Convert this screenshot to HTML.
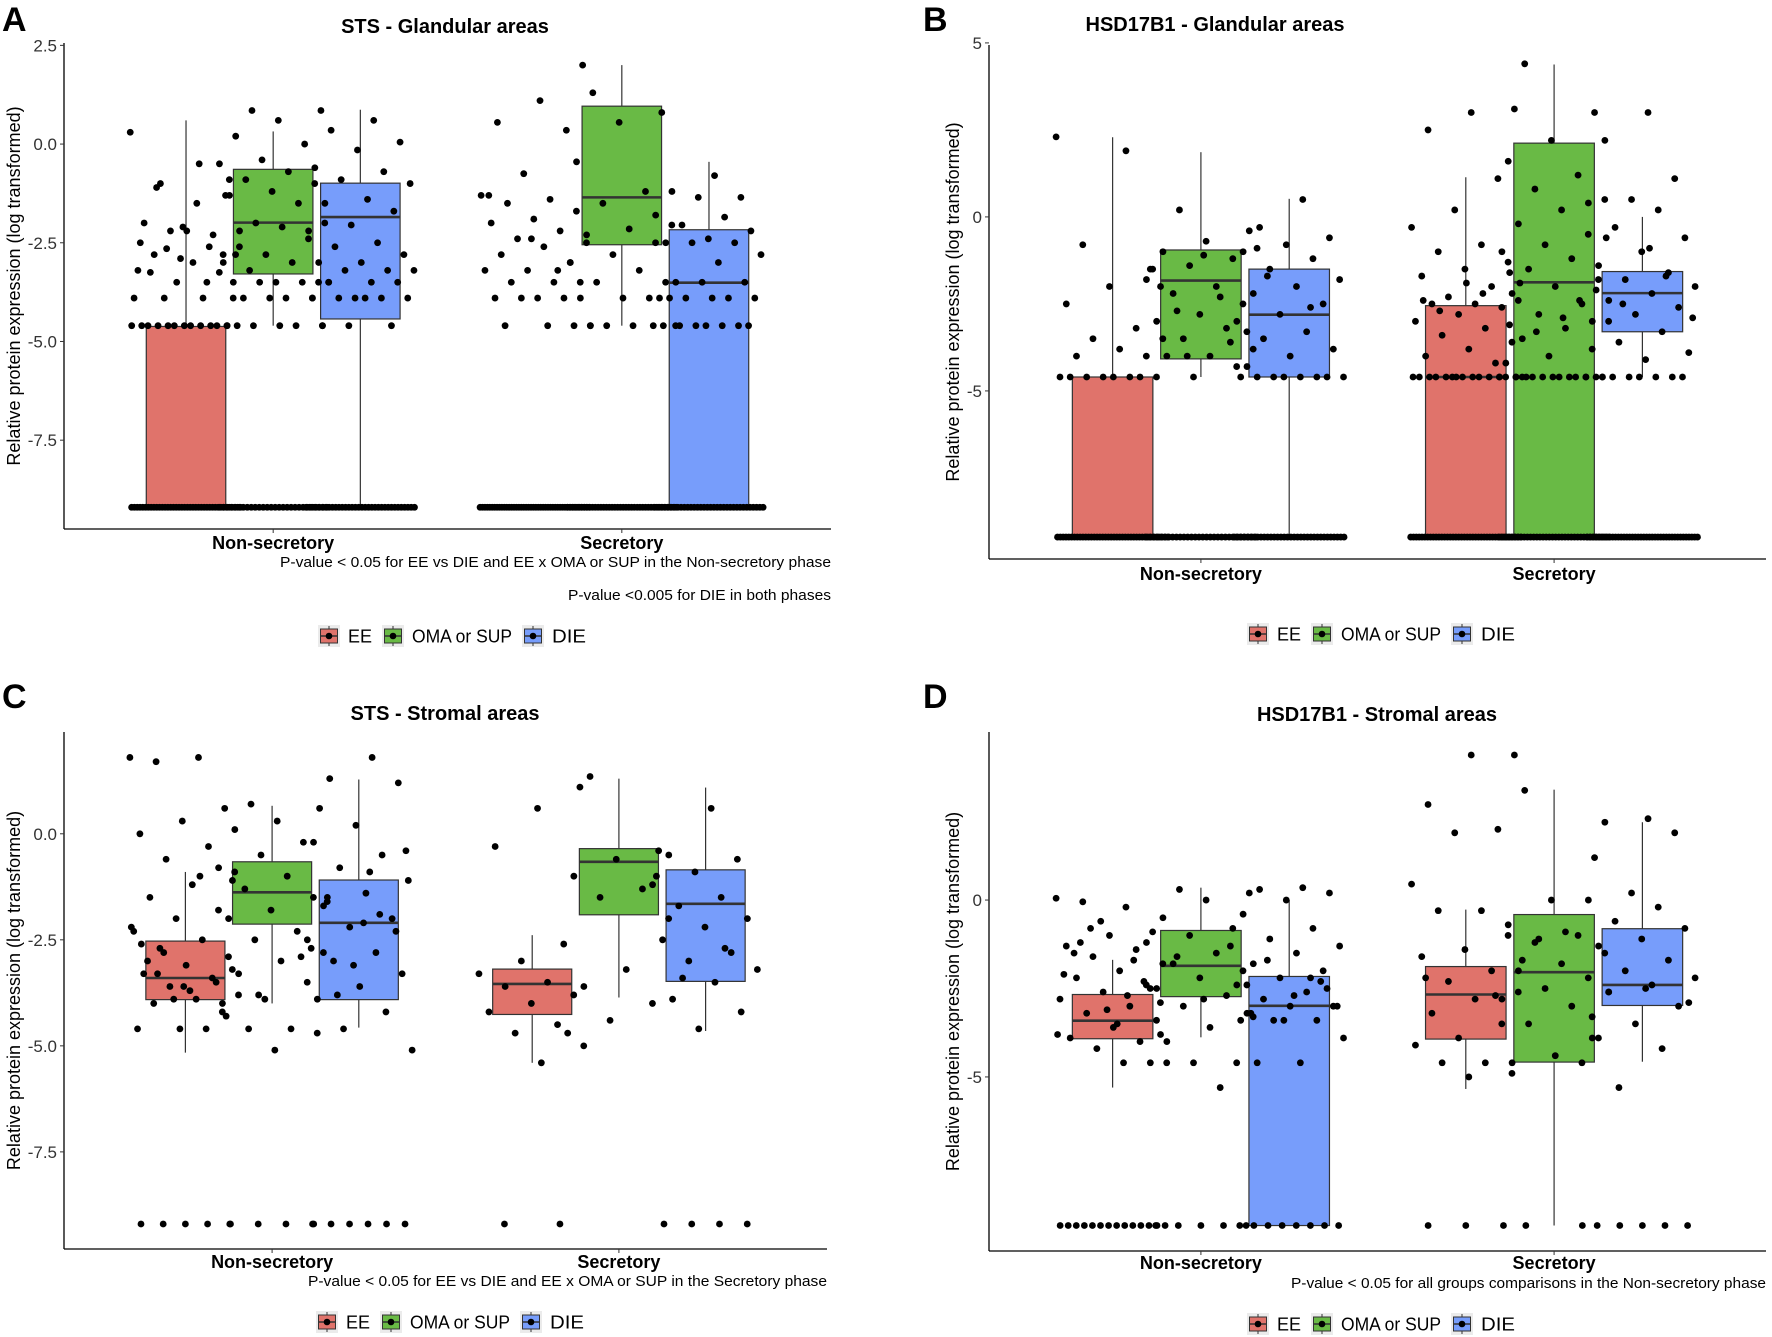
<!DOCTYPE html>
<html><head><meta charset="utf-8"><style>
html,body{margin:0;padding:0;background:#fff;}
svg{display:block;font-family:"Liberation Sans",Arial,sans-serif;}
</style></head><body>
<svg id="fig" width="1772" height="1337" viewBox="0 0 1772 1337" xmlns="http://www.w3.org/2000/svg"></svg>
<script>
// ---------- DATA ----------
const groups = ["EE", "OMA or SUP", "DIE"];
const phases = ["Non-secretory", "Secretory"];
const FLOOR = -9.2;

const A_stats = [[-9.2,-9.2,-9.2,-4.62,0.6],[-4.6,-3.29,-1.99,-0.64,0.32],[-9.2,-4.43,-1.85,-0.99,0.87],
                 [-9.2,-9.2,-9.2,-9.2,-9.2],[-4.6,-2.55,-1.35,0.96,2.0],[-9.2,-9.2,-3.51,-2.17,-0.45]];
const A_points = [
 [0.3,-0.5,-1.1,-1.3,-2.1,-2.5,-2.6,-2.65,-2.8,-3.0,-3.25,-3.25,-3.5,-3.9,-3.9,-1.0,-0.9,-2.2,-2.0,-2.3,-2.2,-2.6,-1.5,-2.8,-2.8,-2.9,-3.2,-3.5,-3.9,-3.9,-4.6,-4.6,-4.6,-4.6,-4.6,-4.6,-4.6,-4.6,-4.6,-4.6,-4.6,-4.6],
 [0.85,0.85,0.6,0.2,0.0,-0.4,-0.5,-0.7,-0.9,-1.0,-1.2,-1.3,-1.5,-2.0,-2.0,-2.1,-2.2,-2.4,-2.8,-3.0,-3.0,-3.2,-3.5,-3.5,-3.5,-3.5,-3.5,-3.5,-3.9,-3.9,-3.9,-3.9,-4.6,-4.6,-4.6,-4.6,-4.6,-4.6],
 [0.6,0.35,0.05,-0.15,-0.6,-0.7,-0.9,-1.0,-1.4,-1.5,-1.7,-2.05,-2.2,-2.5,-2.6,-2.8,-3.0,-3.0,-3.2,-3.2,-3.2,-3.5,-3.5,-3.5,-3.9,-3.9,-3.9,-3.9,-3.9,-3.9,-4.6,-4.6,-4.6],
 [2.0,1.1,0.55,0.35,-0.75,-1.3,-1.4,-1.5,-1.7,-1.9,-2.0,-2.2,-2.4,-2.5,-2.6,-2.8,-3.0,-3.2,-3.2,-3.5,-3.5,-3.5,-3.9,-3.9,-3.9,-3.9,-4.6,-4.6,-4.6,-4.6,-2.4,-1.3,-3.2],
 [1.3,0.8,0.55,-0.45,-1.2,-1.5,-2.05,-2.15,-2.3,-2.5,-2.8,-3.0,-3.2,-3.5,-3.5,-3.9,-3.9,-3.9,-4.6,-4.6,-4.6,-4.6],
 [-0.8,-1.2,-1.35,-1.35,-1.8,-1.85,-2.05,-2.2,-2.4,-2.5,-2.5,-2.5,-2.8,-3.0,-3.5,-3.5,-3.5,-3.9,-3.9,-3.9,-3.9,-3.9,-3.9,-4.6,-4.6,-4.6,-4.6,-4.6,-4.6,-4.6,-4.6]];
const A_floor = [40,28,34,46,40,34];

const B_stats = [[-9.2,-9.2,-9.2,-4.6,2.29],[-4.6,-4.08,-1.83,-0.95,1.86],[-9.2,-4.6,-2.81,-1.5,0.52],
                 [-9.2,-9.2,-4.6,-2.55,1.14],[-9.2,-9.2,-1.88,2.12,4.38],[-4.6,-3.3,-2.19,-1.57,0.0]];
const B_points = [
 [2.3,1.9,-0.8,-1.5,-2.0,-2.5,-3.2,-3.5,-3.5,-3.8,-4.0,-4.0,-4.6,-4.6,-4.6,-4.6,-4.6,-4.6,-4.6,-4.6],
 [0.2,-0.4,-0.7,-1.0,-1.2,-1.4,-1.8,-2.0,-2.2,-2.5,-2.8,-3.0,-3.2,-3.5,-3.8,-4.0,-4.0,-4.3,-4.6,-1.5,-2.3,-2.7,-3.3,-1.1,-2.0,-3.6,-4.0,-0.9],
 [0.5,-0.3,-0.6,-0.8,-1.0,-1.2,-1.5,-1.8,-2.0,-2.2,-2.5,-2.8,-3.0,-3.3,-3.5,-3.8,-4.0,-4.3,-4.6,-4.6,-4.6,-4.6,-4.6,-4.6,-4.6,-4.6,-2.6,-1.7],
 [3.1,3.0,2.5,1.1,0.2,-0.3,-0.8,-1.0,-1.3,-1.5,-1.7,-2.0,-2.3,-2.4,-2.5,-2.5,-2.6,-2.8,-3.0,-3.2,-3.4,-3.6,-3.8,-4.0,-4.2,-4.6,-4.6,-4.6,-4.6,-4.6,-4.6,-4.6,-4.6,-4.6,-4.6,-4.6,-4.6,-4.6,-4.6,-4.6,-2.2,-2.7,-3.1,-1.9,-2.4],
 [4.4,3.0,2.2,1.6,1.2,0.8,0.5,0.2,-0.2,-0.5,-0.8,-1.0,-1.2,-1.5,-1.8,-2.0,-2.2,-2.5,-2.8,-3.0,-3.2,-3.5,-3.8,-4.0,-4.2,-4.6,-4.6,-4.6,-4.6,-4.6,-4.6,-4.6,-4.6,-4.6,-4.6,-4.6,-4.6,-1.6,-2.4,-3.3,-0.6,-2.9,-1.9],
 [3.0,2.2,1.1,0.5,0.4,0.2,-0.3,-0.6,-1.0,-1.4,-1.6,-1.8,-2.0,-2.2,-2.4,-2.6,-2.8,-3.0,-3.3,-3.6,-3.9,-4.1,-4.6,-4.6,-4.6,-4.6,-4.6,-4.6,-4.6,-4.6,-2.1,-1.7,-2.5,-2.9,-0.9]];
const B_floor = [40,30,34,40,36,40];

const C_stats = [[-5.16,-3.91,-3.4,-2.53,-0.9],[-4.0,-2.13,-1.38,-0.66,0.66],[-4.57,-3.91,-2.1,-1.09,1.28],
                 [-5.4,-4.26,-3.54,-3.19,-2.39],[-3.86,-1.91,-0.66,-0.35,1.3],[-4.65,-3.48,-1.65,-0.85,1.09]];
const C_points = [
 [1.8,1.8,1.7,0.6,0.3,0.0,-0.3,-0.6,-0.9,-1.2,-1.5,-1.8,-2.0,-2.3,-2.5,-2.7,-2.9,-3.1,-3.3,-3.4,-3.6,-3.8,-3.9,-4.0,-4.2,-4.6,-4.6,-4.6,-2.8,-3.2,-3.7,-3.0,-3.5,-3.9,-2.2,-1.0,-3.3,-4.3,-3.6,-2.6],
 [0.7,0.6,0.3,0.1,-0.2,-0.5,-0.8,-1.0,-1.3,-1.5,-1.8,-2.0,-2.3,-2.5,-2.8,-3.0,-3.3,-3.5,-3.9,-4.0,-4.6,-4.6,-4.7,-5.1,-1.1,-2.9,-3.8,-1.6],
 [1.8,1.3,1.2,0.2,-0.2,-0.5,-0.8,-1.1,-1.4,-1.7,-2.0,-2.2,-2.5,-2.8,-3.0,-3.3,-3.6,-3.9,-4.2,-4.6,-5.1,-0.9,-1.5,-2.3,-3.1,-2.7,-1.9,-3.8,-0.4,-2.1],
 [1.1,0.6,-0.3,-2.6,-3.0,-3.3,-3.5,-3.6,-3.8,-4.0,-4.2,-4.5,-4.7,-5.0,-5.4],
 [1.35,-0.4,-0.6,-1.0,-1.3,-1.5,-2.0,-3.2,-3.6,-4.0,-4.4,-4.7],
 [0.6,-0.5,-0.6,-0.9,-1.2,-1.5,-1.7,-2.0,-2.2,-2.5,-2.8,-3.0,-3.2,-3.5,-3.9,-4.2,-4.6,-1.0,-2.7,-3.4]];
const C_floor = [5,4,6,2,0,4];

const D_stats = [[-5.3,-3.92,-3.41,-2.67,-1.69],[-3.88,-2.73,-1.86,-0.86,0.35],[-9.2,-9.2,-2.99,-2.16,0.0],
                 [-5.34,-3.93,-2.67,-1.88,-0.27],[-9.2,-4.58,-2.04,-0.41,3.12],[-4.57,-2.98,-2.4,-0.81,2.2]];
const D_points = [
 [0.05,-0.2,-0.05,-0.9,-1.0,-1.3,-1.4,-1.6,-1.8,-2.0,-2.2,-2.4,-2.6,-2.8,-3.0,-3.2,-3.4,-3.6,-3.9,-4.0,-4.2,-4.6,-4.6,-1.2,-2.5,-3.1,-2.1,-1.7,-0.8,-2.9,-3.5,-1.5,-2.3,-0.6,-3.8,-2.7],
 [0.3,0.2,0.0,-0.5,-0.8,-1.0,-1.2,-1.5,-1.8,-2.0,-2.2,-2.5,-2.7,-3.0,-3.3,-3.6,-4.0,-4.6,-4.6,-4.6,-5.3,-1.6,-2.4,-2.8,-3.8,-1.3],
 [0.35,0.3,0.2,0.0,-0.4,-0.8,-1.1,-1.3,-1.5,-1.8,-2.0,-2.2,-2.4,-2.6,-2.8,-3.0,-3.0,-3.2,-3.4,-3.4,-3.9,-4.6,-4.6,-2.5,-3.4,-3.4,-2.2,-1.7,-3.0,-2.7,-3.2,-2.3],
 [4.1,4.1,2.7,2.0,1.9,0.45,-0.3,-0.3,-1.0,-1.4,-1.6,-2.0,-2.3,-2.6,-2.8,-3.2,-3.5,-3.9,-4.1,-4.6,-4.6,-4.9,-5.0,-2.2,-2.7],
 [3.1,1.2,0.0,-0.7,-1.0,-1.2,-1.5,-1.8,-2.0,-2.2,-2.5,-2.8,-3.0,-3.5,-3.9,-4.4,-4.6,-4.6,-1.1,-2.6,-0.9,-1.7,-3.3],
 [2.3,2.2,1.9,0.2,0.0,-0.2,-0.6,-0.8,-1.1,-1.3,-1.7,-2.0,-2.2,-2.4,-2.6,-3.0,-3.5,-3.9,-4.2,-5.3,-2.9,-2.5]];
const D_floor = [14,5,8,3,2,5];

// ---------- DRAWING ----------
const NS = "http://www.w3.org/2000/svg";
const svg = document.getElementById("fig");
const COLORS = ["#e0736b", "#69ba45", "#779dfb"];
function mk(tag, attrs, parent) {
  const e = document.createElementNS(NS, tag);
  for (const k in attrs) e.setAttribute(k, attrs[k]);
  (parent || svg).appendChild(e);
  return e;
}
function txt(s, attrs, parent) { const t = mk("text", attrs, parent); t.textContent = s; return t; }

function drawPanel(cfg, stats, points, floorCounts) {
  const g = mk("g", {});
  
  
  const yScale = v => cfg.T + (cfg.ymax - v) / (cfg.ymax - cfg.ymin) * (cfg.B - cfg.T);
  const xUnit = (cfg.R - cfg.L) / 2.2;
  const xCat = i => cfg.L + (i + 0.6) * xUnit;
  const bw = 0.228 * xUnit, off = 0.25 * xUnit;
  const jit = 0.32 * xUnit;

  const L = txt(cfg.letter, {x: cfg.lx, y: cfg.ly, "font-size": 34, "font-weight": "bold", fill: "#000"}, g);
  
  
  const t = txt(cfg.title, {x: cfg.tx, y: cfg.ty, "font-size": 20, "font-weight": "bold", "text-anchor": "middle", fill: "#000"}, g);
  
  

  for (let p = 0; p < 2; p++) {
    for (let k = 0; k < 3; k++) {
      const idx = p * 3 + k, s = stats[idx];
      const cx = xCat(p) + (k - 1) * off;
      const bg = mk("g", {}, g);
      
      
      mk("line", {x1: cx, x2: cx, y1: yScale(s[4]), y2: yScale(s[3]), stroke: "#333", "stroke-width": 1.2}, bg);
      mk("line", {x1: cx, x2: cx, y1: yScale(s[1]), y2: yScale(s[0]), stroke: "#333", "stroke-width": 1.2}, bg);
      if (s[3] - s[1] > 0.01) {
        mk("rect", {x: cx - bw / 2, y: yScale(s[3]), width: bw, height: yScale(s[1]) - yScale(s[3]), fill: COLORS[k], stroke: "#333", "stroke-width": 1.2}, bg);
      }
      mk("line", {x1: cx - bw / 2, x2: cx + bw / 2, y1: yScale(s[2]), y2: yScale(s[2]), stroke: "#333", "stroke-width": 2.6}, bg);
    }
  }
  for (let p = 0; p < 2; p++) {
    for (let k = 0; k < 3; k++) {
      const idx = p * 3 + k;
      const cx = xCat(p) + (k - 1) * off;
      const pg = mk("g", {fill: "#000"}, g);
      
      
      points[idx].forEach((v, i) => {
        const j = ((i * 0.61803 + idx * 0.31) % 1) - 0.5;
        mk("circle", {cx: cx + j * jit, cy: yScale(v), r: 3.4}, pg);
      });
      const n = floorCounts[idx];
      for (let i = 0; i < n; i++) {
        const j = -0.5 + (i + 0.5) / n;
        mk("circle", {cx: cx + j * jit, cy: yScale(FLOOR), r: 3.4}, pg);
      }
    }
  }
  const ax = mk("g", {}, g);
  
  
  mk("line", {x1: cfg.L, x2: cfg.L, y1: cfg.T, y2: cfg.B, stroke: "#000", "stroke-width": 1.3}, ax);
  mk("line", {x1: cfg.L, x2: cfg.R, y1: cfg.B, y2: cfg.B, stroke: "#000", "stroke-width": 1.3}, ax);
  cfg.ticks.forEach((v, i) => {
    const y = yScale(v);
    mk("line", {x1: cfg.L - 4, x2: cfg.L, y1: y, y2: y, stroke: "#333", "stroke-width": 1}, ax);
    const tl = txt(cfg.tickLabels[i], {x: cfg.L - 7, y: y + 6, "font-size": 17, "text-anchor": "end", fill: "#333"}, ax);
    
    
  });
  for (let p = 0; p < 2; p++) {
    const x = xCat(p);
    mk("line", {x1: x, x2: x, y1: cfg.B, y2: cfg.B + 4, stroke: "#333", "stroke-width": 1}, ax);
    const cl = txt(phases[p], {x: x, y: cfg.cy + 6, "font-size": 18, "font-weight": "bold", "text-anchor": "middle", fill: "#000"}, ax);
    
    
  }
  const yt = txt("Relative protein expression (log transformed)", {x: 0, y: 0, "font-size": 18, "text-anchor": "middle", fill: "#000",
    transform: `translate(${cfg.ytx},${(cfg.T + cfg.B) / 2}) rotate(-90)`}, ax);
  
  
  cfg.notes.forEach(nt => {
    const n = txt(nt.s, {x: cfg.R, y: nt.y + 5, "font-size": 14.5, "text-anchor": "end", fill: "#000", textLength: nt.w, lengthAdjust: "spacingAndGlyphs"}, ax);
    
    
  });
  const lg = mk("g", {}, g);
  
  
  const widths = [24, 100, 34];
  const total = 3 * 22 + 3 * 8 + widths[0] + widths[1] + widths[2] + 2 * 10;
  let x = cfg.legX - total / 2;
  for (let k = 0; k < 3; k++) {
    const e = mk("g", {}, lg);
    
    
    const yc = cfg.legY;
    mk("rect", {x: x, y: yc - 11, width: 22, height: 22, fill: "#ebebeb"}, e);
    mk("line", {x1: x + 11, x2: x + 11, y1: yc - 10, y2: yc + 10, stroke: "#333", "stroke-width": 1}, e);
    mk("rect", {x: x + 2.5, y: yc - 7, width: 17, height: 14, fill: COLORS[k], stroke: "#333", "stroke-width": 1}, e);
    mk("line", {x1: x + 2.5, x2: x + 19.5, y1: yc, y2: yc, stroke: "#333", "stroke-width": 1.5}, e);
    mk("circle", {cx: x + 11, cy: yc, r: 3.3, fill: "#000"}, e);
    x += 22 + 8;
    txt(groups[k], {x: x, y: yc + 6.5, "font-size": 18, fill: "#000", textLength: widths[k], lengthAdjust: "spacingAndGlyphs"}, e);
    x += widths[k] + 10;
  }
}

drawPanel({name: "panel-a", letter: "A", lx: 2, ly: 31, title: "STS - Glandular areas", tx: 445, ty: 33,
  L: 64, R: 831, T: 43, B: 529, ymax: 2.56, ymin: -9.75, ticks: [2.5, 0, -2.5, -5, -7.5], tickLabels: ["2.5", "0.0", "-2.5", "-5.0", "-7.5"],
  cy: 543, ytx: 20, legX: 452, legY: 636,
  notes: [{s: "P-value < 0.05 for EE vs DIE and EE x OMA or SUP in the Non-secretory phase", y: 562, w: 551},
          {s: "P-value <0.005 for DIE in both phases", y: 595, w: 263}]},
  A_stats, A_points, A_floor);

drawPanel({name: "panel-b", letter: "B", lx: 923, ly: 31, title: "HSD17B1 - Glandular areas", tx: 1215, ty: 31,
  L: 989, R: 1766, T: 45, B: 559, ymax: 4.94, ymin: -9.83, ticks: [5, 0, -5], tickLabels: ["5", "0", "-5"],
  cy: 574, ytx: 959, legX: 1381, legY: 634, notes: []},
  B_stats, B_points, B_floor);

drawPanel({name: "panel-c", letter: "C", lx: 2, ly: 708, title: "STS - Stromal areas", tx: 445, ty: 720,
  L: 64, R: 827, T: 732, B: 1249, ymax: 2.4, ymin: -9.79, ticks: [0, -2.5, -5, -7.5], tickLabels: ["0.0", "-2.5", "-5.0", "-7.5"],
  cy: 1262, ytx: 20, legX: 450, legY: 1322,
  notes: [{s: "P-value < 0.05 for EE vs DIE and EE x OMA or SUP in the Secretory phase", y: 1281, w: 519}]},
  C_stats, C_points, C_floor);

drawPanel({name: "panel-d", letter: "D", lx: 923, ly: 708, title: "HSD17B1 - Stromal areas", tx: 1377, ty: 721,
  L: 989, R: 1766, T: 732, B: 1251, ymax: 4.75, ymin: -9.92, ticks: [0, -5], tickLabels: ["0", "-5"],
  cy: 1263, ytx: 959, legX: 1381, legY: 1324,
  notes: [{s: "P-value < 0.05 for all groups comparisons in the Non-secretory phase", y: 1283, w: 475}]},
  D_stats, D_points, D_floor);
</script>
</body></html>
